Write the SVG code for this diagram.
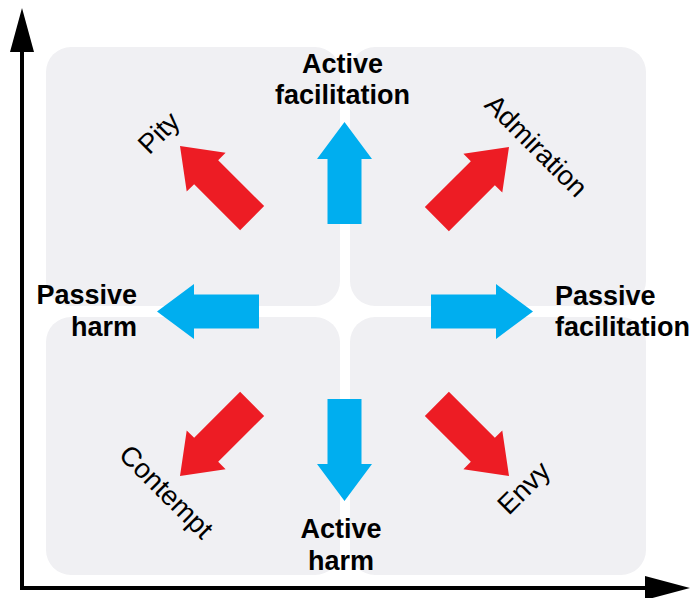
<svg xmlns="http://www.w3.org/2000/svg" width="693" height="598" viewBox="0 0 693 598">
<style>
.q{fill:#f0f0f3}
.b{fill:#00aeef}
.r{fill:#ed1c24}
.lb{font-family:"Liberation Sans",Arial,sans-serif;font-weight:bold;font-size:27px;fill:#000}
.ln{font-family:"Liberation Sans",Arial,sans-serif;font-size:27.5px;fill:#000}
.ax{stroke:#000;stroke-width:4;fill:none}
</style>
<defs>
<path id="arr" d="M0,0 L27.5,37 L17,37 L17,102 L-17,102 L-17,37 L-27.5,37 Z"/>
</defs>
<g id="quadrants">
<rect class="q" x="46" y="47" width="294" height="259" rx="25"/>
<rect class="q" x="350" y="47" width="296" height="259" rx="25"/>
<rect class="q" x="46" y="317" width="294" height="258" rx="25"/>
<rect class="q" x="350" y="317" width="296" height="258" rx="25"/>
</g>
<g id="axes">
<path class="ax" d="M22,48 L22,588 L648,588"/>
<polygon points="22,8 34,52 10,52" fill="#000"/>
<polygon points="690,588 645,576 645,600" fill="#000"/>
</g>
<g id="connectors">
<use href="#arr" class="b" transform="translate(344.5,122)"/>
<use href="#arr" class="b" transform="translate(344.5,501) rotate(180)"/>
<use href="#arr" class="b" transform="translate(157,311.5) rotate(-90)"/>
<use href="#arr" class="b" transform="translate(533,311.5) rotate(90)"/>
<use href="#arr" class="r" transform="translate(180,146) rotate(-45)"/>
<use href="#arr" class="r" transform="translate(509,147) rotate(45)"/>
<use href="#arr" class="r" transform="translate(180,476) rotate(-135)"/>
<use href="#arr" class="r" transform="translate(509,476) rotate(135)"/>
</g>
<g id="active-facilitation"><text class="lb" text-anchor="middle" x="342.5" y="73">Active</text><text class="lb" text-anchor="middle" x="342.5" y="104">facilitation</text></g>
<g id="active-harm"><text class="lb" text-anchor="middle" x="341" y="538">Active</text><text class="lb" text-anchor="middle" x="341" y="570">harm</text></g>
<g id="passive-harm"><text class="lb" text-anchor="end" x="137" y="304">Passive</text><text class="lb" text-anchor="end" x="137" y="336">harm</text></g>
<g id="passive-facilitation"><text class="lb" x="555" y="305">Passive</text><text class="lb" x="555" y="336">facilitation</text></g>
<g id="pity"><text class="ln" text-anchor="middle" transform="translate(159,133) rotate(-45)" y="9">Pity</text></g>
<g id="admiration"><text class="ln" text-anchor="middle" transform="translate(536,146) rotate(45)" y="9">Admiration</text></g>
<g id="contempt"><text class="ln" text-anchor="middle" transform="translate(166,492) rotate(45)" y="9">Contempt</text></g>
<g id="envy"><text class="ln" text-anchor="middle" transform="translate(524,488) rotate(-45)" y="9">Envy</text></g>
</svg>
